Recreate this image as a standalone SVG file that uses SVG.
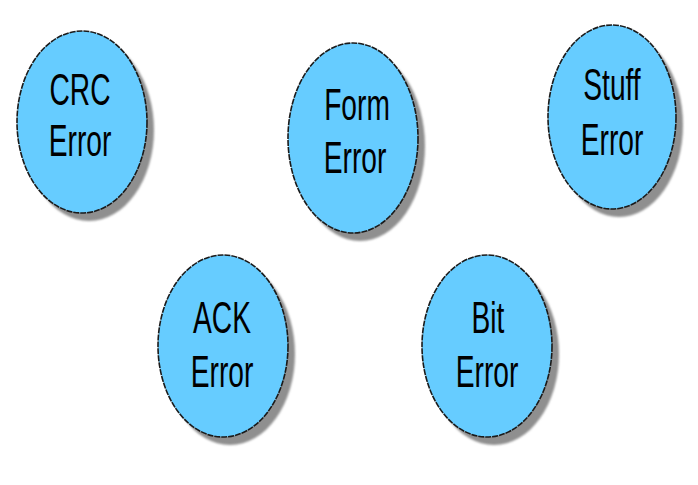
<svg xmlns="http://www.w3.org/2000/svg" width="698" height="485" viewBox="0 0 698 485">
<defs>
<style>
.shadow{fill:#8f8f8f;filter:url(#blur)}
.node{fill:#66CCFF;stroke:#1a1a1a;stroke-width:1.6;stroke-dasharray:6 1}
.lbl{font-family:"Liberation Sans",Arial,sans-serif;font-size:44px;fill:#000;text-anchor:middle}
</style>
<filter id="blur" x="-10%" y="-10%" width="120%" height="120%"><feGaussianBlur stdDeviation="1.2"/></filter>
</defs>
<rect width="698" height="485" fill="#ffffff"/>
<g id="connectors"></g>
<g id="crc">
<ellipse class="shadow" cx="89" cy="130" rx="65" ry="91"/>
<ellipse class="node" cx="82" cy="122" rx="65" ry="91"/>
<text class="lbl" transform="translate(80,105) scale(0.64,1)">CRC</text>
<text class="lbl" transform="translate(80,156) scale(0.64,1)">Error</text>
</g>
<g id="form">
<ellipse class="shadow" cx="360" cy="146" rx="65" ry="95"/>
<ellipse class="node" cx="353" cy="138" rx="65" ry="95"/>
<text class="lbl" transform="translate(357,120) scale(0.64,1)">Form</text>
<text class="lbl" transform="translate(355,173) scale(0.64,1)">Error</text>
</g>
<g id="stuff">
<ellipse class="shadow" cx="619" cy="125" rx="64" ry="92"/>
<ellipse class="node" cx="612" cy="117" rx="64" ry="92"/>
<text class="lbl" transform="translate(612,100) scale(0.64,1)">Stuff</text>
<text class="lbl" transform="translate(612,155) scale(0.64,1)">Error</text>
</g>
<g id="ack">
<ellipse class="shadow" cx="230" cy="354" rx="65" ry="91"/>
<ellipse class="node" cx="223" cy="346" rx="65" ry="91"/>
<text class="lbl" transform="translate(222,333) scale(0.64,1)">ACK</text>
<text class="lbl" transform="translate(222,387) scale(0.64,1)">Error</text>
</g>
<g id="bit">
<ellipse class="shadow" cx="494" cy="354" rx="65" ry="91"/>
<ellipse class="node" cx="487" cy="346" rx="65" ry="91"/>
<text class="lbl" transform="translate(488,333) scale(0.64,1)">Bit</text>
<text class="lbl" transform="translate(487,387) scale(0.64,1)">Error</text>
</g>
</svg>
